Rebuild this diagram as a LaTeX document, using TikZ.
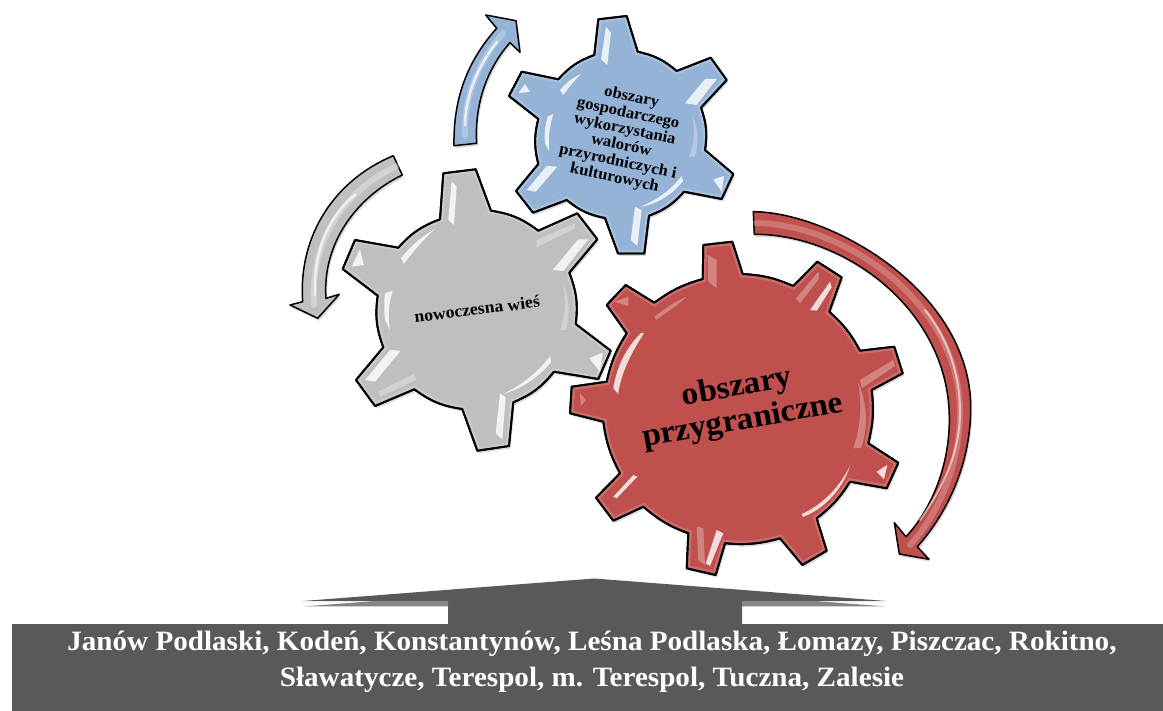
\documentclass[tikz,border=0pt]{standalone}
\usepackage{fontspec}
\setmainfont[FakeStretch=1.04]{Liberation Serif}
\usetikzlibrary{shadows}
\definecolor{gearblue}{HTML}{95B3D7}
\definecolor{geargrey}{HTML}{BFBFBF}
\definecolor{gearred}{HTML}{C0504D}
\definecolor{bandgrey}{HTML}{595959}
\definecolor{wedgegrey}{HTML}{858585}
\newcommand{\greypath}{(443.3,173.3) -- (475.7,169.3) -- (491,210.7) to[bend left=14] (538.3,230.7) -- (577.3,213.3) -- (597.3,239.3) -- (569.3,272.7) to[bend left=14] (575.7,324) -- (610.7,350.7) -- (598.3,379) -- (554,371.7) to[bend left=14] (513.3,402.3) -- (509,446) -- (477.3,450.7) -- (462.3,409) to[bend left=14] (414.3,389.3) -- (375,406) -- (356,380) -- (383.3,347.3) to[bend left=14] (377.7,295.7) -- (342.7,269) -- (355,240) -- (398.3,247.7) to[bend left=14] (440,219.3) -- cycle}
\newcommand{\bluepath}{(598.3,19.3) -- (626.7,16) -- (637.7,51.7) to[bend left=14] (676.7,71) -- (710.7,57.7) -- (726.7,80) -- (701,107.7) to[bend left=14] (705,150) -- (733.3,174) -- (721.7,199) -- (684,191.7) to[bend left=14] (649,215.7) -- (644.3,253.5) -- (618,253.5) -- (605,218) to[bend left=14] (566.7,200) -- (533,212.7) -- (516,191) -- (538.3,164) to[bend left=14] (538.3,119) -- (509,96) -- (521.7,71.7) -- (558.3,79.3) to[bend left=14] (594.3,55) -- cycle}
\newcommand{\redpath}{(703.3,245) -- (732.3,241.7) -- (742.7,274) to[bend left=10] (793.3,286) -- (817.3,261.7) -- (841.7,277.3) -- (829.3,311.7) to[bend left=10] (860,350.7) -- (894.3,346.7) -- (902.7,373.3) -- (871.7,390) to[bend left=10] (868.3,443.3) -- (898.3,462.7) -- (886.7,488.3) -- (850,481.7) to[bend left=10] (816.7,518.3) -- (826.7,550.7) -- (802.3,565) -- (780,538.3) to[bend left=10] (725,543.3) -- (715.7,575) -- (686.7,568.3) -- (688.3,533.3) to[bend left=10] (643.3,506.7) -- (613.3,520.7) -- (596,497.7) -- (620,473.3) to[bend left=10] (603.3,421.7) -- (570,413.3) -- (571.7,386.7) -- (606.7,381.7) to[bend left=10] (626.7,333.3) -- (606.7,305) -- (625.7,285) -- (654.3,302.7) to[bend left=10] (702.7,279) -- cycle}
\begin{document}
\begin{tikzpicture}[x=1pt,y=-1pt]
\tikzstyle{every node}+=[inner sep=0pt]
\tikzstyle{gearedge}=[draw=black,line width=1.9pt,line join=round]
\tikzstyle{softshadow}=[drop shadow={shadow xshift=1.5pt,shadow yshift=-2.5pt,opacity=0.3}]
\tikzstyle{shine}=[fill=white,opacity=0.8]
\tikzstyle{faint}=[fill=white,opacity=0.3]
\tikzstyle{bevel}=[white,line width=7pt,opacity=0.16]
\tikzstyle{arrowedge}=[draw=black,line width=1.5pt,line join=round]
\tikzstyle{streak}=[white,line cap=round]
\useasboundingbox (0,0) rectangle (1163,711);

\draw [arrowedge,fill=gearblue,softshadow] (454,145.7) .. controls (453,95) and (470,58) .. (496.7,28.3) -- (485.7,15) -- (516,20.7) -- (520,52.3) -- (510,42.7) .. controls (490,65) and (474,100) .. (476.7,143.3) -- cycle;
\draw [streak,line width=6pt,opacity=0.25] (465,136) .. controls (463,97) and (480,60) .. (503,33);
\draw [streak,line width=2.5pt,opacity=0.7] (465,125) .. controls (465,97) and (478,65) .. (497,42);

\draw [arrowedge,fill=geargrey,softshadow] (393.3,155.7) .. controls (335,180) and (298,235) .. (302.7,301.7) -- (290,305) -- (317.7,318.3) -- (339.3,294.3) -- (326,298.3) .. controls (322,245) and (355,198) .. (402.3,175) -- cycle;
\draw [streak,line width=6pt,opacity=0.3] (314,305) .. controls (310,240) and (345,190) .. (397,166);
\draw [streak,line width=2.5pt,opacity=0.65] (315,295) .. controls (313,250) and (330,215) .. (355,195);

\draw [arrowedge,fill=gearred,softshadow] (753.3,211.7) .. controls (830,212) and (970,290) .. (970.7,407) .. controls (971,460) and (950,510) .. (917.3,546.7) -- (929,559.3) -- (899.3,554) -- (894.3,522.7) -- (906,536.7) .. controls (935,505) and (950,460) .. (949.3,416.7) .. controls (948,310) and (845,234) .. (754.3,234.3) -- cycle;
\draw [streak,line width=6pt,opacity=0.22] (755,223) .. controls (840,223) and (960,300) .. (960,412) .. controls (960,460) and (942,510) .. (910,545);
\draw [streak,line width=2pt,opacity=0.55] (920,520) .. controls (945,485) and (960,450) .. (960,412) .. controls (960,370) and (945,335) .. (925,310);

\draw [gearedge,fill=geargrey,softshadow] \greypath;
\begin{scope}
\clip \greypath;
\draw [bevel] \greypath;
\end{scope}
\draw [gearedge] \greypath;
\fill [shine] (451.7,181.7) -- (456.7,186.7) -- (454,225) -- (448.3,220) -- cycle;
\fill [shine] (401,258) .. controls (411,246) and (422,236) .. (435,229) .. controls (425,238) and (414,250) .. (404,264) -- cycle;
\fill [shine] (552.7,270) -- (578.3,239.3) -- (588.3,239.3) -- (563.3,271) -- cycle;
\fill [faint] (536.7,240) -- (575,223.3) -- (575,228.3) -- (536.7,247.3) -- cycle;
\fill [faint] (560,330) .. controls (566,315) and (566,300) .. (563,283) .. controls (570,300) and (570,315) .. (566,330) -- cycle;
\fill [shine] (589.3,358.3) -- (602.7,352.7) -- (600,371.7) -- cycle;
\fill [shine] (550.3,356) .. controls (538,372) and (522,385) .. (503,394) .. controls (522,389) and (540,376) .. (551,362) -- cycle;
\fill [shine] (500,393.3) -- (505.7,397.3) -- (502.3,439.3) -- (495.7,433.3) -- cycle;
\fill [shine] (365,380) -- (390,350) -- (400.7,350.7) -- (375,381.7) -- cycle;
\fill [faint] (378.3,391.7) -- (415,373.3) -- (416,380) -- (380,396.7) -- cycle;
\fill [shine] (385,293.3) -- (392.7,290.7) .. controls (388,305) and (388,318) .. (390,330) -- (385,320) .. controls (384,310) and (384,300) .. (385,293.3) -- cycle;
\fill [shine] (351.7,266.7) -- (360,249.3) -- (364,265) -- cycle;

\draw [gearedge,fill=gearblue,softshadow] \bluepath;
\begin{scope}
\clip \bluepath;
\draw [bevel] \bluepath;
\end{scope}
\draw [gearedge] \bluepath;
\fill [shine] (606,26.7) -- (611,32.7) -- (607.3,65) -- (601,59.3) -- cycle;
\fill [shine] (560,90) .. controls (566,83) and (572,78) .. (581,74) .. controls (575,80) and (569,87) .. (563.3,95) -- cycle;
\fill [shine] (685,103.3) -- (705,79) -- (716.7,79) -- (696.7,105) -- cycle;
\fill [faint] (689,156.7) .. controls (695,143) and (695,128) .. (692,115) .. controls (698,128) and (699,143) .. (695,156.7) -- cycle;
\fill [shine] (713.3,179.3) -- (724,176) -- (721.7,191.7) -- cycle;
\fill [shine] (681.7,176) .. controls (671,190) and (657,200) .. (640,207) .. controls (657,204) and (672,195) .. (683,181) -- cycle;
\fill [shine] (635,206.7) -- (641.7,210) -- (637.3,246) -- (630.7,240) -- cycle;
\fill [shine] (526.7,190) -- (546.7,166) -- (557.3,166.7) -- (535.7,191.7) -- cycle;
\fill [shine] (547.7,116.7) -- (553.3,114) .. controls (549,128) and (548,140) .. (549.3,151.7) -- (545,143.3) .. controls (544,135) and (545,125) .. (547.7,116.7) -- cycle;
\fill [shine] (518.3,93.3) -- (525,84) -- (530,91.7) -- cycle;

\draw [gearedge,fill=gearred,softshadow] \redpath;
\begin{scope}
\clip \redpath;
\draw [bevel] \redpath;
\end{scope}
\draw [gearedge] \redpath;
\fill [faint] (707.7,255) -- (716.7,260) -- (716.7,288.3) -- (708.3,281.7) -- cycle;
\fill [faint] (796,298.3) -- (818.3,271.7) -- (819.3,278.3) -- (800,303.3) -- cycle;
\fill [shine] (810,310) -- (830,281.7) -- (831.7,287.3) -- (816.7,310.7) -- cycle;
\fill [faint] (655,316.7) .. controls (665,308) and (675,302) .. (686.7,296.7) .. controls (678,305) and (667,312) .. (656,320) -- cycle;
\fill [faint] (615,301.7) -- (628.3,296.7) -- (628.3,306) -- cycle;
\fill [shine] (613.3,388) .. controls (617,365) and (627,347) .. (641,333) -- (644,333) .. controls (632,352) and (622,370) .. (618,394) -- cycle;
\fill [faint] (580,393.3) -- (586,400) -- (580.7,406) -- cycle;
\fill [shine] (613.3,496.7) -- (633.3,475) -- (637.3,476.7) -- (616.7,498.3) -- cycle;
\fill [shine] (705.7,563.3) -- (716.7,530) -- (723.3,533.3) -- (710,566) -- cycle;
\fill [faint] (696.7,526.7) -- (703.3,528.3) -- (705,565) -- (698.3,560) -- cycle;
\fill [shine] (801.7,514) .. controls (820,506) and (838,490) .. (850,466) .. controls (843,488) and (826,508) .. (803,517) -- cycle;
\fill [shine] (876.7,471.7) -- (887.3,465) -- (884,479.3) -- cycle;
\fill [faint] (853.3,448.3) .. controls (861,425) and (862,405) .. (858,382) .. controls (868,405) and (868,428) .. (861,448) -- cycle;
\fill [faint] (860,380) -- (893.3,360) -- (895,366) -- (862,388) -- cycle;

\node (greylabel) [align=center,rotate=7,font=\bfseries\fontsize{17}{18}\selectfont] at (477,309) {nowoczesna wieś};
\node (bluelabel) [align=center,rotate=-12,font=\bfseries\fontsize{16}{16.5}\selectfont] at (623,138) {obszary\\gospodarczego\\wykorzystania\\walorów\\przyrodniczych i\\kulturowych};
\node (redlabel) [align=center,rotate=10,font=\bfseries\fontsize{32}{34}\selectfont] at (740,405) {obszary\\przygraniczne};

\fill [bandgrey] (303,601) -- (594,578.5) -- (886,601) -- (742,601) -- (742,624) -- (1163,624) -- (1163,711) -- (12,711) -- (12,624) -- (448,624) -- (448,601) -- cycle;
\fill [wedgegrey] (305,606.3) -- (375,601) -- (448,601) -- (448,606.3) -- cycle;
\fill [wedgegrey] (742,601) -- (815,601) -- (884,606.3) -- (742,606.3) -- cycle;
\node (townlist) [align=center,text=white,font=\bfseries\fontsize{28}{36}\selectfont] at (592,662) {Janów Podlaski, Kodeń, Konstantynów, Leśna Podlaska, Łomazy, Piszczac, Rokitno,\\Sławatycze, Terespol, m. Terespol, Tuczna, Zalesie};
\end{tikzpicture}
\end{document}
